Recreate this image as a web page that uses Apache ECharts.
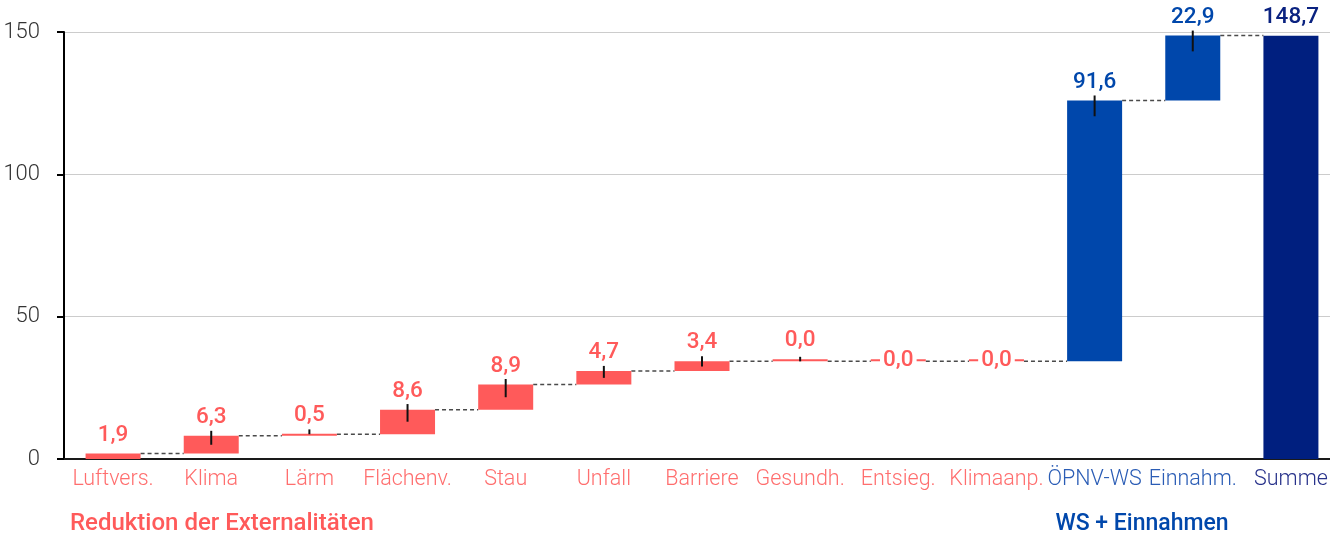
<!DOCTYPE html>
<html>
<head>
<meta charset="utf-8">
<script src="https://cdn.jsdelivr.net/npm/echarts@6/dist/echarts.min.js"></script>
<style>
  html, body { margin: 0; padding: 0; background: #fff; overflow: hidden; }
  /* plot runs a little past the right window edge */
  #chart { width: 1340px; height: 535px; }
</style>
</head>
<body>
<div id="chart"></div>
<script>
// Benefit components (waterfall), in the order they are stacked
const categories = ['Luftvers.', 'Klima', 'Lärm', 'Flächenv.', 'Stau', 'Unfall', 'Barriere',
                    'Gesundh.', 'Entsieg.', 'Klimaanp.', 'ÖPNV-WS', 'Einnahm.', 'Summe'];
const values = [1.9, 6.3, 0.5, 8.6, 8.9, 4.7, 3.4, 0.0, 0.0, 0.0, 91.6, 22.9, 148.7];
// ext = Reduktion der Externalitäten, ws = WS + Einnahmen, sum = total column
const groups = ['ext', 'ext', 'ext', 'ext', 'ext', 'ext', 'ext', 'ext', 'ext', 'ext', 'ws', 'ws', 'sum'];
// uncertainty whiskers around each step's top (up / down), null = none
const errUp   = [null, 1.7, 1.7, 2.0, 1.9, 1.8, 1.8, 1.6, null, null, 1.8, 1.7, null];
const errDown = [null, 3.2, 0.0, 4.2, 4.5, 2.4, 1.8, 0.0, null, null, 5.5, 5.6, null];
// zero steps whose value label sits on the bar itself
const inlineLabel = [false, false, false, false, false, false, false, false, true, true, false, false, false];
const yTicks = [0, 50, 100, 150];
const groupTitles = ['Reduktion der Externalitäten', 'WS + Einnahmen'];

const FONT = 'Roboto';
const barColors   = { ext: '#ff5a5a', ws: '#0047ab', sum: '#001f7f' };
const labelColors = { ext: '#ff5a5a', ws: '#0047ab', sum: '#0a2280' };
const axisColors  = { ext: '#ff6e6e', ws: '#2a5cb5', sum: '#27318a' };
const BAR_W = 55;

// running base of each step; the total column starts at zero
const bases = [];
let run = 0;
values.forEach((v, i) => {
  if (groups[i] === 'sum') { bases.push(0); }
  else { bases.push(run); run += v; }
});
const tops = values.map((v, i) => bases[i] + v);
const fmt = v => v.toFixed(1).replace('.', ',');

const chart = echarts.init(document.getElementById('chart'), null, { renderer: 'canvas' });

const option = {
  animation: false,
  grid: { left: 64, right: 0, top: 32, bottom: 76, containLabel: false },
  xAxis: {
    type: 'category',
    data: categories.map((c, i) => ({ value: c, textStyle: { color: axisColors[groups[i]] } })),
    axisLine: { show: true, lineStyle: { color: '#1a1a1a', width: 2 } },
    axisTick: { show: false },
    axisLabel: { fontFamily: FONT, fontSize: 21.5, fontWeight: 300, margin: 10, interval: 0 },
    splitLine: { show: false }
  },
  yAxis: {
    type: 'value',
    min: yTicks[0],
    max: yTicks[yTicks.length - 1],
    interval: yTicks[1] - yTicks[0],
    axisLine: { show: true, lineStyle: { color: '#000', width: 2 } },
    axisTick: { show: true, length: 7, lineStyle: { color: '#000', width: 2 } },
    axisLabel: { fontFamily: FONT, fontSize: 22, fontWeight: 300, color: '#333', margin: 24 },
    splitLine: { show: true, lineStyle: { color: '#cccccc', width: 1 } }
  },
  series: [
    {
      // invisible base of each floating step
      type: 'bar',
      stack: 'wf',
      barWidth: BAR_W,
      silent: true,
      itemStyle: { color: 'transparent' },
      data: bases,
      z: 1
    },
    {
      type: 'bar',
      stack: 'wf',
      barWidth: BAR_W,
      barMinHeight: 2,
      data: values.map((v, i) => ({
        value: v,
        itemStyle: { color: barColors[groups[i]] },
        label: inlineLabel[i]
          ? { position: 'inside', backgroundColor: '#fff', padding: [1, 3], color: labelColors[groups[i]] }
          : { position: 'top', color: labelColors[groups[i]] }
      })),
      label: {
        show: true,
        distance: 7,
        fontFamily: FONT,
        fontSize: 22.5,
        fontWeight: 500,
        formatter: p => fmt(p.value)
      },
      z: 2
    },
    {
      // dashed connectors from each step to the next one
      type: 'custom',
      silent: true,
      z: 1,
      data: tops.slice(0, -1).map((t, i) => [i, t]),
      renderItem: (params, api) => {
        const i = api.value(0);
        const p = api.coord([i, api.value(1)]);
        const step = api.size([1, 0])[0];
        return {
          type: 'line',
          shape: { x1: p[0] + BAR_W / 2, y1: p[1], x2: p[0] + step - BAR_W / 2, y2: p[1] },
          style: { stroke: '#4a4a4a', lineWidth: 1.5, lineDash: [4, 3] }
        };
      }
    },
    {
      // uncertainty whiskers
      type: 'custom',
      silent: true,
      z: 3,
      data: tops.map((t, i) => [i, errUp[i] == null ? null : t + errUp[i], errDown[i] == null ? null : t - errDown[i]])
                .filter(d => d[1] != null),
      renderItem: (params, api) => {
        const i = api.value(0);
        const a = api.coord([i, api.value(1)]);
        const b = api.coord([i, api.value(2)]);
        return {
          type: 'line',
          shape: { x1: a[0], y1: a[1], x2: b[0], y2: b[1] },
          style: { stroke: '#111', lineWidth: 2 }
        };
      }
    }
  ],
  graphic: [
    {
      type: 'text', x: 70, y: 524,
      style: { text: groupTitles[0], fontFamily: FONT, fontSize: 24, fontWeight: 500, fill: '#ff5a5a',
               align: 'left', verticalAlign: 'middle' }
    },
    {
      type: 'text', x: 1142, y: 524,
      style: { text: groupTitles[1], fontFamily: FONT, fontSize: 23, fontWeight: 500, fill: '#0047ab',
               align: 'center', verticalAlign: 'middle' }
    }
  ]
};

chart.setOption(option);
</script>
</body>
</html>
